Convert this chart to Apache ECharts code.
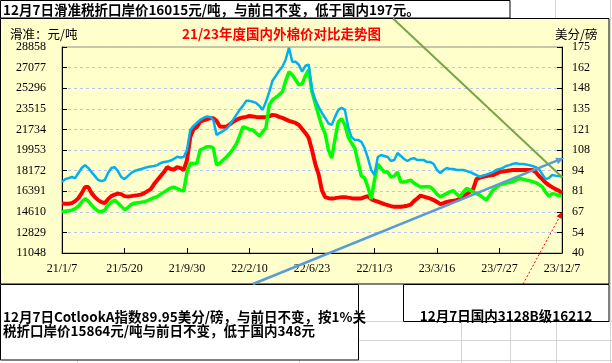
<!DOCTYPE html>
<html><head><meta charset="utf-8">
<script src="https://cdn.jsdelivr.net/npm/echarts@6/dist/echarts.min.js"></script>
<style>html,body{margin:0;padding:0;background:#fff}#c{width:612px;height:363px}</style>
</head><body><div id="c"></div>
<script>
// ---- data ----
const startDate = [2021, 0, 7];   // first weekly category (21/1/7)
const weekCount = 153;            // weekly points up to 23/12/7
const xTickLabels = ['21/1/7','21/5/20','21/9/30','22/2/10','22/6/23','22/11/3','23/3/16','23/7/27','23/12/7'];
const leftAxisTicks = [11048,12829,14610,16391,18172,19953,21734,23515,25296,27077,28858];
const rightAxisTicks = [40,54,67,81,94,108,121,135,148,162,175];

// domestic 3128B (yuan/ton, left axis) - red
const domestic3128B = [
15331,15314,15314,15358,15531,15791,16225,16745,16745,16225,
15878,15618,15444,15358,15704,15964,16095,16181,16138,15964,
15921,15964,16008,16051,16095,16225,16398,16571,17005,17352,
17699,18045,18479,18306,18262,18479,18392,18219,19086,21080,
21774,21948,22407,22511,22598,22702,22702,22468,21991,21973,
21973,22164,22407,22554,22685,22771,22815,22901,22858,22815,
22789,22789,22789,22858,22988,22945,22815,22728,22598,22468,
22381,22294,22121,21774,21427,20994,19953,18739,17872,16485,
15878,15791,15765,15791,15834,15878,15878,15834,15791,15765,
15765,15765,15878,15964,15704,15574,15488,15384,15271,15184,
15097,15037,15037,15054,15097,15141,15227,15531,15765,16008,
15921,15834,15748,15618,15470,15271,15358,15470,15531,15574,
15618,15748,15921,16138,16311,16571,17439,17569,17638,17699,
17742,17785,17915,18045,18089,18132,18176,18219,18219,18219,
18219,18219,18219,18219,18045,17699,17439,17135,16918,16745,
16571,16441,16212];

// sliding-tariff landed price (yuan/ton, left axis) - green
const slidingTariffPrice = [
14603,14664,14707,14750,14881,15097,15444,15748,15531,15184,
14881,14664,14620,14750,15184,15444,15618,15358,15097,14794,
14967,15227,15358,15401,15444,15488,15574,15704,15834,15921,
16138,16311,16485,16658,16745,16615,16485,16398,18045,18800,
18783,18800,19953,20083,20239,20239,20127,18653,18826,19086,
19346,19650,20040,20473,21167,21948,21861,21731,21687,21427,
21167,21514,21861,23855,24289,24505,24722,24982,25936,26717,
26456,26023,25589,25676,26370,26890,24982,23942,22988,22034,
21341,19953,19259,20907,22381,22641,22121,21080,20560,20127,
18913,17699,17525,16745,15704,17352,18739,18392,18045,18045,
17612,17699,18045,17178,17178,17265,17352,17092,16918,16745,
16771,16771,16745,16485,16138,15904,16051,16199,16355,16441,
16138,15904,16311,16632,16485,16337,16181,16051,15834,15618,
16051,16485,16701,16918,17005,17092,17135,17204,17352,17482,
17439,17352,17308,17222,17135,16962,16771,16311,15964,16181,
16138,16008,16015];

// Cotlook A index (US cents/lb, right axis) - blue
const cotlookA = [
86.7,88.4,89.1,89.8,89.1,92.4,95.7,97.6,95.7,93.0,
90.4,87.8,87.1,87.8,92.4,95.7,96.3,93.7,89.8,88.4,
90.4,92.4,93.7,94.4,95.0,95.7,96.3,96.7,97.0,97.6,
99.0,99.6,99.9,100.6,101.6,103.1,102.6,102.9,107.5,120.7,
123.3,125.3,127.2,128.5,129.4,129.2,127.2,117.4,118.7,120.0,
121.3,123.9,127.2,130.5,133.8,136.4,139.7,139.7,139.1,138.4,
136.4,133.8,139.1,145.6,152.9,156.1,159.4,162.1,166.7,174.5,
165.3,165.3,163.4,158.8,162.7,163.4,146.9,140.4,135.8,131.8,
128.5,125.0,124.0,129.2,133.8,135.1,133.8,122.6,116.0,114.1,
114.1,112.8,108.8,102.2,94.4,91.1,102.9,104.2,103.6,102.9,
100.3,100.9,105.5,103.6,101.6,100.3,101.6,102.2,100.9,100.9,
100.9,99.6,99.6,98.3,94.4,92.4,94.4,95.7,95.0,95.0,
94.4,94.4,94.4,93.7,93.0,92.1,91.1,90.0,90.7,91.4,
92.2,93.0,94.4,95.0,95.7,97.0,97.6,98.3,98.8,98.3,
98.3,98.0,97.6,97.0,96.3,95.0,91.7,88.4,89.1,91.1,
90.7,90.4,89.95];

// ---- build categories (weekly dates) ----
const categories = [];
for (let i = 0; i < weekCount; i++) {
  const d = new Date(Date.UTC(startDate[0], startDate[1], startDate[2]) + i * 7 * 86400000);
  categories.push((d.getUTCFullYear() % 100) + '/' + (d.getUTCMonth() + 1) + '/' + d.getUTCDate());
}

const CJK = '"Noto Sans CJK SC", sans-serif';
const NUM = '"Liberation Serif", serif';

function txt(text, x, y, size, weight, color, align) {
  return { type: 'text', z: 50, style: { text, x, y, fontSize: size, fontWeight: weight, fontFamily: CJK,
    fill: color, textAlign: align || 'left', textVerticalAlign: 'middle', align: align || 'left', verticalAlign: 'middle' } };
}
function line(x1, y1, x2, y2, color, w, dash, z) {
  return { type: 'line', z: z == null ? 60 : z, silent: true,
    shape: { x1, y1, x2, y2 }, style: { stroke: color, lineWidth: w, lineDash: dash || null } };
}
function arrowHead(x1, y1, x2, y2, color, len, wid) {
  const a = Math.atan2(y2 - y1, x2 - x1);
  const bx = x2 - len * Math.cos(a), by = y2 - len * Math.sin(a);
  const px = -Math.sin(a) * wid / 2, py = Math.cos(a) * wid / 2;
  return { type: 'polygon', z: 61, shape: { points: [[x2, y2], [bx + px, by + py], [bx - px, by - py]] },
    style: { fill: color } };
}
function rect(x, y, w, h, fill, stroke, z) {
  return { type: 'rect', z: z, shape: { x, y, width: w, height: h }, style: { fill: fill, stroke: stroke || null, lineWidth: 1 } };
}

const grayC = '#d4d4d4';
const graphics = [
  rect(0, 0, 612, 363, '#ffffff', null, -20),
  // excel cell lines
  line(555.5, 0, 555.5, 18, grayC, 1, null, -15),
  line(610.5, 0, 610.5, 363, grayC, 1, null, -15),
  line(358, 321.5, 612, 321.5, grayC, 1, null, -15),
  line(358, 340.5, 612, 340.5, grayC, 1, null, -15),
  line(358, 360.5, 612, 360.5, grayC, 1, null, -15),
  line(461.5, 322, 461.5, 363, grayC, 1, null, -15),
  line(510.5, 322, 510.5, 363, grayC, 1, null, -15),
  line(556.5, 322, 556.5, 363, grayC, 1, null, -15),
  line(77.5, 360, 77.5, 363, grayC, 1, null, -15),
  line(299.5, 360, 299.5, 363, grayC, 1, null, -15),
  // chart area
  rect(0.5, 18.5, 608.5, 265.5, '#ffffcc', '#000000', -10),
  // title box
  rect(0.5, 0.5, 509.5, 17.5, '#ffffff', '#000000', 40),
  txt('12月7日滑准税折口岸价16015元/吨，与前日不变，低于国内197元。', 3, 9.5, 13.5, 'bold', '#000'),
  // headers
  txt('滑准：元/吨', 10, 34, 12.5, 'normal', '#000'),
  txt('21/23年度国内外棉价对比走势图', 281.5, 34, 13.5, 'bold', '#ff0000', 'center'),
  txt('美分/磅', 555, 34, 12.5, 'normal', '#000'),
  // bottom boxes
  rect(0.5, 284.5, 358, 75.5, '#ffffff', '#000000', 40),
  txt('12月7日CotlookA指数89.95美分/磅，与前日不变，按1%关', 3, 317, 13.5, 'bold', '#000'),
  txt('税折口岸价15864元/吨与前日不变，低于国内348元', 3, 330.5, 13.5, 'bold', '#000'),
  rect(403.5, 284.5, 205.5, 37, '#ffffff', '#000000', 40),
  txt('12月7日国内3128B级16212', 506, 316, 13.5, 'bold', '#000', 'center'),
  // annotation connectors
  line(393, 18.5, 562.5, 177.5, '#77a648', 2),
  line(253, 284, 560, 159.3, '#5b9bd5', 2.5),
  arrowHead(253, 284, 564, 158, '#5b9bd5', 8, 7),
  line(523, 284, 560.5, 215.2, '#ff0000', 1, [2, 2]),
  arrowHead(523, 284, 562.5, 211.5, '#ff0000', 7, 6)
];

const chart = echarts.init(document.getElementById('c'), null, { renderer: 'canvas' });
chart.setOption({
  animation: false,
  backgroundColor: 'transparent',
  grid: { left: 62, right: 50, top: 47, bottom: 110, show: true, borderColor: '#8c8c8c', borderWidth: 1, backgroundColor: '#ffffcc' },
  xAxis: {
    type: 'category', data: categories, boundaryGap: false,
    axisLine: { lineStyle: { color: '#000', width: 1 } },
    axisTick: { inside: true, length: 5, interval: 18, lineStyle: { color: '#000' } },
    axisLabel: { interval: 18, margin: 10, fontFamily: NUM, fontSize: 12, color: '#000' },
    splitLine: { show: false }
  },
  yAxis: [{
    type: 'value', min: leftAxisTicks[0], max: leftAxisTicks[leftAxisTicks.length - 1],
    interval: leftAxisTicks[1] - leftAxisTicks[0],
    axisLine: { show: true, lineStyle: { color: '#000' } },
    axisTick: { show: true, inside: true, length: 5, lineStyle: { color: '#000' } },
    axisLabel: { margin: 16, fontFamily: NUM, fontSize: 12, color: '#000', formatter: v => String(Math.round(v)) },
    splitLine: { show: true, lineStyle: { color: '#b9c3f2', type: [3, 3], width: 1 } }
  }, {
    type: 'value', position: 'right', min: rightAxisTicks[0], max: rightAxisTicks[rightAxisTicks.length - 1],
    interval: 13.5,
    axisLine: { show: true, lineStyle: { color: '#000' } },
    axisTick: { show: true, inside: true, length: 5, lineStyle: { color: '#000' } },
    axisLabel: { margin: 10, fontFamily: NUM, fontSize: 12, color: '#000', formatter: v => String(Math.round(v)) },
    splitLine: { show: false }
  }],
  series: [
    { name: '国内3128B', type: 'line', data: domestic3128B, yAxisIndex: 0, showSymbol: false, z: 3,
      lineStyle: { color: '#ff0000', width: 4 }, itemStyle: { color: '#ff0000' } },
    { name: '滑准税折口岸价', type: 'line', data: slidingTariffPrice, yAxisIndex: 0, showSymbol: false, z: 4,
      lineStyle: { color: '#00ff00', width: 3.5 }, itemStyle: { color: '#00ff00' } },
    { name: 'CotlookA', type: 'line', data: cotlookA, yAxisIndex: 1, showSymbol: false, z: 5,
      lineStyle: { color: '#00b0f0', width: 2.5 }, itemStyle: { color: '#00b0f0' } }
  ],
  graphic: graphics
});
</script></body></html>
